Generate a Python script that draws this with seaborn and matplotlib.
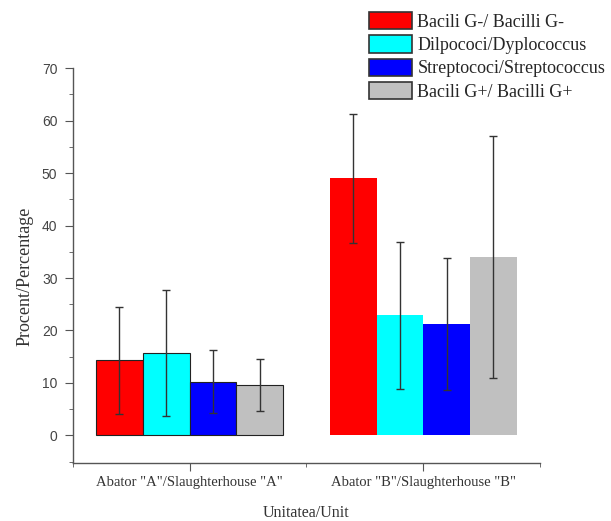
import pandas as pd
import numpy as np
import matplotlib.pyplot as plt
import seaborn as sns
from matplotlib.patches import Patch
from matplotlib.ticker import MultipleLocator

units = ['Abator "A"/Slaughterhouse "A"', 'Abator "B"/Slaughterhouse "B"']
types = ['Bacili G-/ Bacilli G-', 'Dilpococi/Dyplococcus',
         'Streptococi/Streptococcus', 'Bacili G+/ Bacilli G+']
colors = ['#ff0000', '#00ffff', '#0000ff', '#c0c0c0']

# valori
vals_A = [14.3, 15.7, 10.2, 9.6]
vals_B = [49.0, 22.9, 21.2, 34.0]
err_A = [10.2, 12.0, 6.0, 4.9]
err_B = [12.3, 14.0, 12.6, 23.0]

df = pd.DataFrame({
    'unit': [units[0]] * 4 + [units[1]] * 4,
    'tip': types * 2,
    'procent': vals_A + vals_B,
    'err': err_A + err_B,
})

sns.set_style('white')
plt.rcParams['font.family'] = ['Liberation Serif', 'DejaVu Serif']

fig = plt.figure(figsize=(6.11, 5.21), dpi=100)
ax = fig.add_axes([0.119, 0.111, 0.765, 0.758])

sns.barplot(data=df, x='unit', y='procent', hue='tip', hue_order=types,
            palette=colors, order=units, errorbar=None, width=0.8,
            saturation=1, ax=ax, legend=False)

# bare de eroare
for cont, t in zip(ax.containers, types):
    sub = df[df['tip'] == t].set_index('unit').loc[units]
    xs = [p.get_x() + p.get_width() / 2 for p in cont]
    ax.errorbar(xs, sub['procent'], yerr=sub['err'], fmt='none',
                ecolor='#333333', elinewidth=1.0, capsize=3, capthick=1.0)
    for p, u in zip(cont, units):
        if u == units[0]:
            p.set_edgecolor('#222222')
            p.set_linewidth(0.8)
        else:
            p.set_linewidth(0)

ax.set_xlim(-0.5, 1.5)
ax.set_ylim(-5.3, 70)
ax.yaxis.set_major_locator(MultipleLocator(10))
ax.yaxis.set_minor_locator(MultipleLocator(5))
ax.xaxis.set_minor_locator(MultipleLocator(0.5))
for s in ['top', 'right']:
    ax.spines[s].set_visible(False)
for s in ['left', 'bottom']:
    ax.spines[s].set_color('#555555')
    ax.spines[s].set_linewidth(1.0)
ax.tick_params(axis='both', which='major', direction='out', length=6,
               color='#555555', left=True, bottom=True)
ax.tick_params(axis='both', which='minor', direction='out', length=3,
               color='#555555', left=True, bottom=True)
ax.tick_params(axis='y', pad=5)
for lab in ax.get_yticklabels():
    lab.set_family(['Liberation Sans', 'DejaVu Sans'])
    lab.set_fontsize(10)
    lab.set_color('#444444')
for lab in ax.get_xticklabels():
    lab.set_fontsize(10.5)
    lab.set_color('#333333')

ax.set_ylabel('Procent/Percentage', fontsize=13, color='#333333')
ax.yaxis.set_label_coords(-0.083, 0.473)
ax.set_xlabel('Unitatea/Unit', fontsize=11.5, color='#333333', labelpad=11)

handles = [Patch(facecolor=c, edgecolor='#333333', linewidth=1.2) for c in colors]
fig.legend(handles, types, loc='upper left', bbox_to_anchor=(0.604, 0.977),
           frameon=False, fontsize=13, handlelength=2.4, handleheight=1.1,
           labelspacing=0.25, handletextpad=0.28, borderpad=0,
           borderaxespad=0)

fig.savefig('out.png', dpi=100)
